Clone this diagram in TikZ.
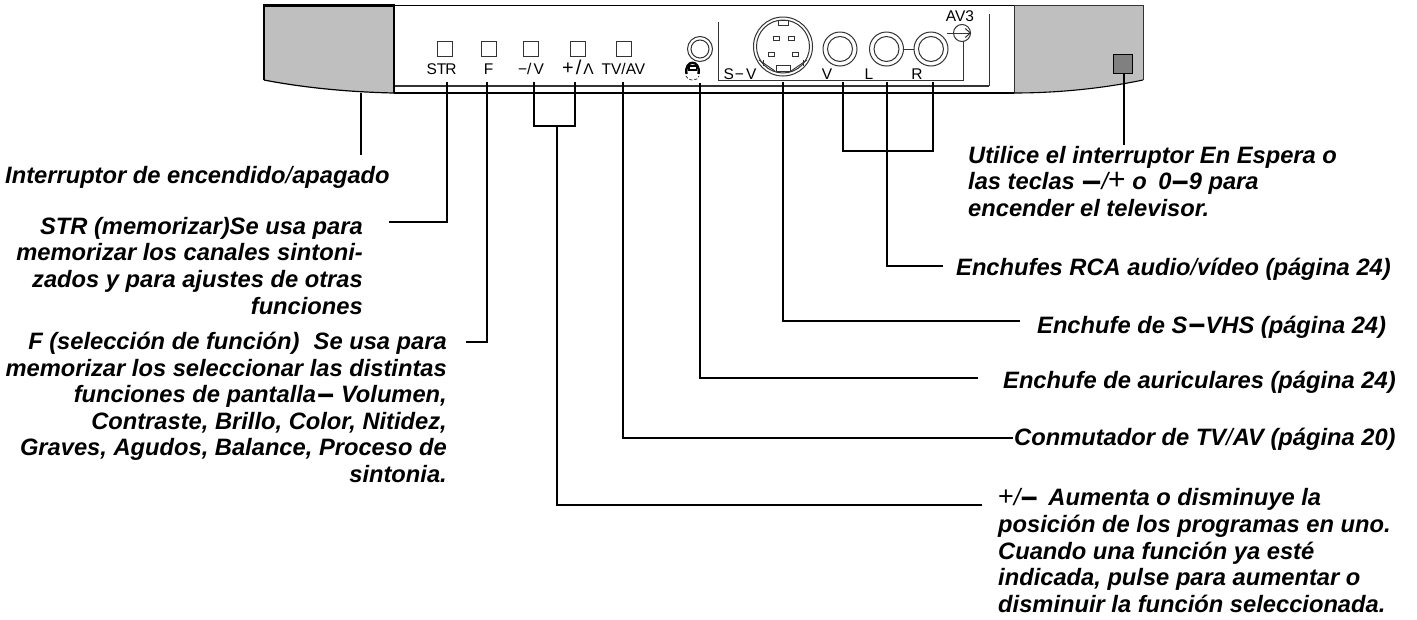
\documentclass[tikz,border=0pt]{standalone}
\usepackage{fontspec}
\usepackage{graphicx}
\setmainfont{Liberation Sans}
\usetikzlibrary{arrows.meta}
\definecolor{panel}{HTML}{BFBFBF}
\definecolor{knob}{HTML}{808080}
\definecolor{edge}{HTML}{333333}
\newcommand{\tslash}{{\mdseries\itshape/}}
\newcommand{\bminus}[1][1.25]{{\upshape\bfseries\raisebox{-3.5pt}{\scalebox{#1}[1.35]{\char"2212}}}}
\newcommand{\tplus}[1][27]{{\upshape\mdseries\fontsize{#1}{26}\selectfont+}}
\tikzset{
  x=1pt,y=-1pt,
  lead/.style={line width=2pt,black,line join=miter},
  leadthin/.style={line width=1.3pt,black},
  wire/.style={line width=1pt,edge},
  heavy/.style={line width=2.2pt,black},
  btn/.style={draw=edge,line width=0.9pt,fill=white},
  ring/.style={draw=edge,line width=1pt,fill=white},
  small/.style={font=\fontsize{15.5}{18}\selectfont,inner sep=0pt,text=black},
  capt/.style={font=\fontsize{23.7}{26.6}\selectfont\bfseries\itshape,inner sep=0pt,text=black},
  captR/.style={capt,align=right,anchor=north east},
  captL/.style={capt,align=left,anchor=north west},
  captS/.style={capt,anchor=base west},
}
\begin{document}
\begin{tikzpicture}
\useasboundingbox (0,0) rectangle (1417,619);
% panels
\fill[panel] (264,5) -- (394,5) -- (394,93) .. controls (345,92) and (300,87) .. (264,80) -- cycle;
\fill[panel] (1014,5) -- (1143,5) -- (1143,80) .. controls (1105,88) and (1060,93) .. (1014,93) -- cycle;
\draw[line width=1.1pt,black] (394,5.5) -- (1014,5.5);
\draw[line width=1.1pt,edge] (394,86) -- (989,86);
\draw[heavy] (394,93) -- (1014,93);
\draw[heavy] (394,93) -- (394,5.5) -- (264,5.5) -- (264,80);
\draw[line width=1.2pt,black] (264,80) .. controls (300,87) and (345,92) .. (394,93);
\draw[line width=0.9pt,edge] (1014,5.5) -- (1143,5.5) -- (1143,80);
\draw[line width=0.9pt,edge] (1014,5.5) -- (1014,93);
\draw[line width=1.1pt,black] (1143,80) .. controls (1105,88) and (1060,93) .. (1014,93);
\node[draw=black,line width=0.9pt,fill=knob,minimum size=19pt,inner sep=0pt] (standby) at (1122.5,63.5) {};
% buttons
\node[btn,minimum size=15pt,inner sep=0pt] (bStr) at (445,48.5) {};
\node[btn,minimum size=15pt,inner sep=0pt] (bF) at (488.5,48.5) {};
\node[btn,minimum size=15pt,inner sep=0pt] (bMinus) at (531,48.5) {};
\node[btn,minimum size=15pt,inner sep=0pt] (bPlus) at (578,48.5) {};
\node[btn,minimum size=15pt,inner sep=0pt] (bTv) at (623.5,48.5) {};
\node[small,anchor=base] (lStr) at (441.5,74) {ST\kern-1pt R};
\node[small,anchor=base] (lF) at (488.5,74) {F};
\node[small,anchor=base] (lMinus) at (531,74) {\char"2212/\kern2pt V};
\node[small,anchor=base] (lPlus) at (578,74) {\fontsize{20}{18}\selectfont +\kern2pt/\kern2pt\fontsize{15.5}{18}\selectfont\char"039B};
\node[small,anchor=base] (lTv) at (623.5,74) {TV/AV};
% sockets frame
\draw[wire] (718,22) -- (718,80) -- (963,80) -- (963,40);
\draw[wire] (989,14) -- (989,86);
\node[draw=edge,line width=1pt,circle,minimum size=17pt,inner sep=0pt,fill=white] (av) at (962,33) {};
\draw[wire,-{Straight Barb[length=5pt,width=9pt]}] (947,33) -- (av.east);
\node[small,anchor=base] (lAv) at (960,21) {AV3};
% headphones
\node[ring,circle,minimum size=25pt,inner sep=0pt] (jackO) at (700,49) {};
\node[ring,circle,minimum size=18pt,inner sep=0pt] (jackI) at (700,49) {};
\draw[line width=2.4pt,black] (686.5,74) .. controls (684,59) and (701,59) .. (698.5,74);
\fill[black] (688,65) rectangle (697,70.5);
\fill[white] (689.5,66.5) rectangle (695.5,69);
\draw[line width=.8pt,edge,dash pattern=on 3pt off 2pt] (686,76) .. controls (687,81.5) and (698,81.5) .. (699,76);
% S-video
\node[ring,circle,minimum size=59pt,inner sep=0pt] (svO) at (783,46.5) {};
\node[ring,circle,minimum size=53pt,inner sep=0pt] (svI) at (783,46.5) {};
\draw[draw=edge,line width=.9pt,fill=white] (778,20) rectangle (788,25);
\draw[edge,line width=.9pt] (759,60) -- (775,71);
\draw[edge,line width=.9pt] (807,60) -- (791,71);
\draw[edge,line width=.9pt] (763,60) -- (763,66);
\draw[edge,line width=.9pt] (803,60) -- (803,66);
\foreach \nm/\cx/\cy in {p1/776/38,p2/791/38,p3/771/54,p4/795/54}
  \node[draw=edge,line width=.9pt,minimum width=6pt,minimum height=4pt,inner sep=0pt] (\nm) at (\cx,\cy) {};
\node[draw=edge,line width=.9pt,fill=white,minimum width=14pt,minimum height=6pt,inner sep=0pt] (p5) at (783,68.5) {};
\node[small,anchor=base] (lSv) at (740,79) {S\kern1pt\char"2212\kern2pt V};
% RCA
\foreach \nm/\cx in {rV/840,rL/886.5,rR/931}{
  \node[ring,circle,minimum size=34pt,inner sep=0pt] (\nm o) at (\cx,49) {};
  \node[ring,circle,minimum size=25pt,inner sep=0pt] (\nm i) at (\cx,49) {};
}
\draw[wire] (rLo.east) -- (rRo.west);
\node[small,anchor=base] (lV) at (827,79) {V};
\node[small,anchor=base] (lL) at (869,79) {L};
\node[small,anchor=base] (lR) at (917,79) {R};
% captions
\node[captS] (tPower) at (5,183) {Interruptor de encendido\tslash apagado};
\node[captR] (tStr) at (363,217) {STR (memorizar)Se usa para\\memorizar los canales sintoni-\\zados y para ajustes de otras\\funciones};
\node[captR] (tF) at (447,332) {F (selección de función)\hspace{0.6em}Se usa para\\memorizar los seleccionar las distintas\\funciones de pantalla\kern1pt\bminus\ Volumen,\\Contraste, Brillo, Color, Nitidez,\\Graves, Agudos, Balance, Proceso de\\sintonia.};
\node[captL] (tStandby) at (968,146) {Utilice el interruptor En Espera o\\las teclas \bminus[1.45]\tslash\tplus[30]\ o\kern5pt\ 0\bminus[1.25]9 para\\encender el televisor.};
\node[captS] (tRca) at (956,275) {Enchufes RCA audio\tslash vídeo (página 24)};
\node[captS] (tSvhs) at (1037,333) {Enchufe de S\kern1pt\bminus VHS (página 24)};
\node[captS] (tAur) at (1003,388) {Enchufe de auriculares (página 24)};
\node[captS] (tConm) at (1014,445) {Conmutador de TV\tslash AV (página 20)};
\node[captL] (tPlus) at (998,488.5) {\tplus\tslash\bminus\kern4pt\ Aumenta o disminuye la\\posición de los programas en uno.\\Cuando una función ya esté\\indicada, pulse para aumentar o\\disminuir la función seleccionada.};
% leader anchors
\coordinate (aPower) at (361,93);
\coordinate (bPower) at (361,155);
\coordinate (aStr) at (446.5,82); \coordinate (eStr) at (389,222);
\coordinate (aF) at (487,82); \coordinate (eF) at (466,342);
\coordinate (aMinus) at (534,82); \coordinate (aPlus) at (575,82);
\coordinate (brM) at (557,126);
\coordinate (ePlus) at (982,505);
\coordinate (aTv) at (623,82);
\coordinate (aHp) at (700,83);
\coordinate (aSv) at (783,82);
\coordinate (aV) at (843,82); \coordinate (aL) at (887,82); \coordinate (aR) at (933,82);
\coordinate (bR) at (933,151); \coordinate (bL) at (887,151);
\coordinate (eStandby) at (1124,145);
% leaders
\draw[lead] (aPower) -- (bPower);
\draw[lead] (aStr) |- (eStr);
\draw[lead] (aF) |- (eF);
\draw[lead] (aMinus) |- (brM) -| (aPlus);
\draw[lead] (brM) |- (ePlus);
\draw[lead,shorten >=1pt] (aTv) |- ([yshift=7pt]tConm.base west);
\draw[lead,shorten >=25pt] (aHp) |- ([yshift=10pt]tAur.base west);
\draw[lead,shorten >=17pt] (aSv) |- ([yshift=12pt]tSvhs.base west);
\draw[lead] (aV) |- (bR) -- (aR);
\draw[lead] (aL) -- (bL);
\draw[leadthin,shorten >=13pt] (bL) |- ([yshift=9pt]tRca.base west);
\draw[lead,line width=1.5pt] (standby.south) ++(1.5,0) coordinate (sB) -- (eStandby);
\end{tikzpicture}
\end{document}
